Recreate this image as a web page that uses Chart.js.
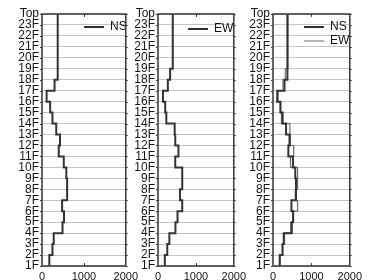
<!DOCTYPE html>
<html><head><meta charset="utf-8">
<script src="https://cdn.jsdelivr.net/npm/chart.js@4.4.0/dist/chart.umd.min.js"></script>
<style>
html,body{margin:0;padding:0;background:#fff;width:368px;height:280px;overflow:hidden}
.panel{position:absolute;top:0;height:280px}
</style></head><body>
<div class="panel" style="left:0;width:142px"><canvas id="c1"></canvas></div>
<div class="panel" style="left:116px;width:134px"><canvas id="c2"></canvas></div>
<div class="panel" style="left:231px;width:135px"><canvas id="c3"></canvas></div>
<script>
// ---- data ----
const floorLabels = ['1F','2F','3F','4F','5F','6F','7F','8F','9F','10F','11F','12F','13F','14F','15F','16F','17F','18F','19F','20F','21F','22F','23F','Top'];
// story values, 1F..23F (value between a floor and the one above it)
const nsValues = [175, 250, 280, 490, 525, 480, 600, 600, 580, 520, 400, 430, 340, 250, 195, 110, 300, 375, 375, 375, 375, 375, 375];
const ewValues = [180, 245, 300, 460, 515, 640, 580, 640, 640, 455, 540, 455, 440, 220, 190, 130, 260, 320, 390, 390, 390, 390, 390];
const xTickValues = [0, 1000, 2000];
const seriesNames = ['NS', 'EW'];

// ---- helpers ----
function stepPoints(values) {
  const pts = [];
  values.forEach((v, i) => { pts.push({x: v, y: i + 1}); pts.push({x: v, y: i + 2}); });
  return pts;
}
const FONT = "'Liberation Sans', Arial, sans-serif";
const TEXT = '#141414';
Chart.defaults.font.family = FONT;
Chart.defaults.color = TEXT;

const framePlugin = {
  id: 'frame',
  afterDraw(chart) {
    const {ctx, chartArea: a, scales} = chart;
    const y = scales.y, x = scales.x;
    ctx.save();
    ctx.strokeStyle = '#3c3c3c';
    ctx.lineWidth = 1;
    for (let i = 1; i <= floorLabels.length; i++) {
      const py = Math.round(y.getPixelForValue(i)) + 0.5;
      ctx.beginPath(); ctx.moveTo(a.right, py); ctx.lineTo(a.right + 2, py); ctx.stroke();
      ctx.beginPath(); ctx.moveTo(a.left - 2, py); ctx.lineTo(a.left, py); ctx.stroke();
    }
    const mx = Math.round(x.getPixelForValue(xTickValues[1])) + 0.5;
    ctx.beginPath(); ctx.moveTo(mx, a.top); ctx.lineTo(mx, a.top + 3);
    ctx.moveTo(mx, a.bottom); ctx.lineTo(mx, a.bottom - 3); ctx.stroke();
    ctx.lineWidth = 1.6;
    ctx.strokeStyle = '#404040';
    ctx.strokeRect(a.left, a.top, a.right - a.left, a.bottom - a.top);
    ctx.restore();
  }
};

function legendPlacer(dx, dy) {
  return {
    id: 'legendPlacer',
    afterLayout(chart) {
      const lg = chart.legend;
      if (!lg) return;
      lg.left = chart.chartArea.left + dx;
      lg.top = chart.chartArea.top + dy;
      lg.right = lg.left + lg.width;
      lg.bottom = lg.top + lg.height;
    }
  };
}

function makeChart(id, datasets, lx, ly) {
  return new Chart(document.getElementById(id), {
    type: 'scatter',
    data: {datasets},
    plugins: [framePlugin, legendPlacer(lx, ly)],
    options: {
      responsive: true,
      maintainAspectRatio: false,
      animation: false,
      layout: {autoPadding: false, padding: {top: 14, right: 13, left: 0, bottom: 0}},
      elements: {point: {radius: 0, hoverRadius: 0}, line: {tension: 0}},
      plugins: {
        tooltip: {enabled: false},
        legend: {
          position: 'chartArea',
          align: 'start',
          labels: {boxWidth: 20, boxHeight: 0, padding: 2, color: TEXT, font: {size: 12}}
        }
      },
      scales: {
        x: {
          type: 'linear', min: xTickValues[0], max: xTickValues[xTickValues.length - 1],
          afterBuildTicks: s => { s.ticks = xTickValues.map(v => ({value: v})); },
          afterFit: s => { s.height = 14; },
          grid: {display: false, drawTicks: false},
          border: {display: false},
          ticks: {padding: 4, maxRotation: 0, autoSkip: false, font: {size: 11}, color: TEXT, callback: v => String(v)}
        },
        y: {
          type: 'linear', min: 1, max: floorLabels.length,
          afterBuildTicks: s => { s.ticks = floorLabels.map((_, i) => ({value: i + 1})); },
          afterFit: s => { s.width = 42; },
          grid: {color: '#c4c4c4', lineWidth: 1, drawTicks: false},
          border: {display: false},
          ticks: {padding: 3, autoSkip: false, font: {size: 12}, color: TEXT, callback: v => floorLabels[v - 1]}
        }
      }
    }
  });
}

function ds(name, values, color, width) {
  return {label: name, data: stepPoints(values), showLine: true, borderColor: color, backgroundColor: color, borderWidth: width, pointRadius: 0};
}

makeChart('c1', [ds(seriesNames[0], nsValues, '#333333', 2)], 40, 5);
makeChart('c2', [ds(seriesNames[1], ewValues, '#333333', 2)], 28, 7);
makeChart('c3', [ds(seriesNames[0], nsValues, '#333333', 2), ds(seriesNames[1], ewValues, '#6e6e6e', 1.2)], 29, 5);
</script>
</body></html>
